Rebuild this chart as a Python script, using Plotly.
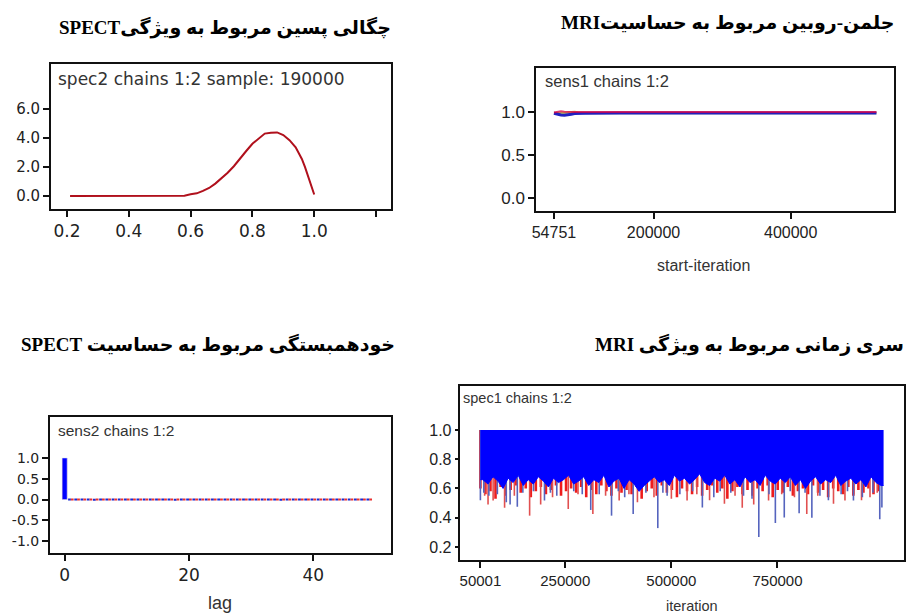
import numpy as np
import plotly.graph_objects as go

W, H = 906, 614

# ---------------- data ----------------
# Panel 1: posterior density of spec2
spec2_x = [0.21, 0.30, 0.40, 0.50, 0.58, 0.60, 0.62, 0.64, 0.66, 0.68, 0.70, 0.72, 0.74, 0.76,
           0.78, 0.80, 0.82, 0.84, 0.86, 0.88, 0.90, 0.92, 0.94, 0.96, 0.97, 0.98, 0.99, 1.00]
spec2_density = [0.0, 0.0, 0.0, 0.0, 0.02, 0.12, 0.18, 0.35, 0.55, 0.85, 1.2, 1.6, 2.05, 2.6,
                 3.1, 3.6, 3.95, 4.3, 4.35, 4.38, 4.2, 3.85, 3.35, 2.55, 2.0, 1.35, 0.75, 0.1]

# Panel 2: Gelman-Rubin for sens1
gr_iter = [54751, 60000, 65000, 70000, 75000, 80000, 85000, 90000, 95000, 100000,
           150000, 200000, 300000, 400000, 525000]
gr_green = [0.99, 0.99, 0.985, 0.99, 0.995, 1.0, 1.0, 0.995, 0.99, 0.99,
            0.99, 0.99, 0.99, 0.99, 0.99]
gr_blue = [0.985, 0.972, 0.965, 0.963, 0.966, 0.975, 0.982, 0.986, 0.987, 0.987,
           0.988, 0.988, 0.988, 0.988, 0.988]
gr_red = [0.995, 1.005, 1.008, 1.004, 1.0, 1.0, 1.0, 1.0, 1.0, 1.0,
          1.0, 1.0, 1.0, 1.0, 1.0]

# Panel 3: autocorrelation of sens2 (lags 0..49)
acf_lag = list(range(50))
acf_chain1 = [1.0] + [0.003, -0.002, 0.001, 0.002, -0.003, 0.0, 0.002, -0.001, 0.001, -0.002,
                      0.003, 0.0, -0.001, 0.002, -0.002, 0.001, 0.0, -0.003, 0.002, 0.001,
                      -0.001, 0.0, 0.002, -0.002, 0.001, 0.003, -0.001, 0.0, 0.001, -0.002,
                      0.002, 0.0, -0.001, 0.001, -0.003, 0.002, 0.0, 0.001, -0.002, 0.001,
                      0.0, -0.001, 0.002, 0.001, -0.002, 0.0, 0.001, -0.001, 0.002]
acf_chain2 = [1.0] + [-0.002, 0.001, 0.003, -0.001, 0.0, 0.002, -0.002, 0.001, 0.0, 0.002,
                      -0.001, 0.001, 0.003, -0.002, 0.0, 0.001, -0.001, 0.002, 0.0, -0.002,
                      0.001, 0.002, -0.001, 0.0, 0.003, -0.002, 0.001, 0.0, -0.001, 0.002,
                      0.0, 0.001, -0.002, 0.002, 0.0, -0.001, 0.001, 0.003, 0.0, -0.002,
                      0.001, 0.0, -0.001, 0.002, 0.0, 0.001, -0.002, 0.0, 0.001]

# Panel 4: trace of spec1 (iterations 50001..1000000), two chains
trace_first, trace_last = 50001, 1000000
blue_floor = [0.66, 0.63, 0.68, 0.65, 0.60, 0.67, 0.64, 0.69, 0.62, 0.66,
              0.63, 0.68, 0.65, 0.61, 0.67, 0.64, 0.66, 0.69, 0.63, 0.65,
              0.68, 0.62, 0.66, 0.64, 0.69, 0.61, 0.65, 0.67, 0.60, 0.66,
              0.63, 0.58, 0.62, 0.65, 0.68, 0.64, 0.66, 0.62, 0.69, 0.65,
              0.67, 0.63, 0.66, 0.70, 0.64, 0.62, 0.67, 0.65, 0.69, 0.63,
              0.66, 0.61, 0.68, 0.64, 0.66, 0.62, 0.69, 0.65, 0.63, 0.67,
              0.64, 0.68, 0.62, 0.66, 0.60, 0.65, 0.68, 0.63, 0.66, 0.64,
              0.69, 0.62, 0.65, 0.67, 0.63, 0.66, 0.61, 0.68, 0.64, 0.62]
red_floor = [0.60, 0.56, 0.58, 0.53, 0.61, 0.55, 0.59, 0.62, 0.57, 0.60,
             0.54, 0.58, 0.61, 0.56, 0.59, 0.62, 0.55, 0.58, 0.60, 0.57,
             0.61, 0.54, 0.59, 0.56, 0.62, 0.58, 0.55, 0.60, 0.57, 0.59,
             0.56, 0.61, 0.53, 0.58, 0.60, 0.55, 0.62, 0.57, 0.59, 0.54,
             0.60, 0.58, 0.56, 0.61, 0.55, 0.59, 0.62, 0.57, 0.60, 0.53,
             0.58, 0.61, 0.56, 0.59, 0.55, 0.60, 0.58, 0.62, 0.54, 0.59,
             0.57, 0.61, 0.55, 0.58, 0.60, 0.56, 0.62, 0.57, 0.59, 0.54,
             0.60, 0.58, 0.56, 0.61, 0.55, 0.59, 0.57, 0.60, 0.56, 0.58]
blue_spike_iter = [50000, 58000, 70000, 90000, 111000, 120000, 137000, 150000, 175000, 201000,
                   215000, 230000, 270000, 290000, 310000, 330000, 359000, 375000, 390000, 410000,
                   440000, 468000, 480000, 490000, 520000, 550000, 573000, 600000, 615000, 640000,
                   670000, 690000, 706000, 730000, 745000, 766000, 780000, 801000, 815000, 831000,
                   850000, 870000, 900000, 915000, 929000, 950000, 975000, 991000, 996000]
blue_spike_min = [0.52, 0.57, 0.55, 0.56, 0.505, 0.49, 0.475, 0.57, 0.58, 0.517,
                  0.57, 0.55, 0.58, 0.56, 0.453, 0.56, 0.414, 0.58, 0.54, 0.425,
                  0.57, 0.329, 0.57, 0.55, 0.56, 0.58, 0.469, 0.54, 0.58, 0.57,
                  0.55, 0.53, 0.269, 0.56, 0.363, 0.402, 0.58, 0.43, 0.57, 0.40,
                  0.55, 0.52, 0.56, 0.58, 0.517, 0.54, 0.57, 0.39, 0.47]
red_spike_iter = [60000, 68000, 80000, 107000, 130000, 166000, 192000, 220000, 257000, 280000,
                  315000, 345000, 377000, 400000, 420000, 459000, 500000, 537000, 560000, 590000,
                  625000, 650000, 667000, 694000, 729000, 760000, 790000, 819000, 845000, 882000,
                  909000, 930000, 948000, 968000, 985000]
red_spike_min = [0.55, 0.49, 0.517, 0.468, 0.55, 0.414, 0.49, 0.54, 0.46, 0.56,
                 0.425, 0.55, 0.517, 0.56, 0.505, 0.54, 0.53, 0.517, 0.56, 0.52,
                 0.495, 0.55, 0.468, 0.49, 0.517, 0.56, 0.54, 0.425, 0.55, 0.495,
                 0.517, 0.56, 0.52, 0.54, 0.57]

# ---------------- layout helpers ----------------
def dx(p):
    return p / W

def dy(p):
    return 1 - p / H

panels = {
    "tl": dict(x=(47, 389), y=(64, 209)),
    "tr": dict(x=(535, 895), y=(68, 211)),
    "bl": dict(x=(46, 389), y=(417, 553)),
    "br": dict(x=(459, 905), y=(386, 560)),
}

SANS = "Liberation Sans, Arial, sans-serif"
WIDE = "DejaVu Sans, Liberation Sans, sans-serif"
TITLE_FONT = "Liberation Serif, Times New Roman, DejaVu Sans, serif"
TXT = "#222222"

fig = go.Figure()

# ---- panel 1: density
fig.add_trace(go.Scatter(x=spec2_x, y=spec2_density, mode="lines",
                         line=dict(color="#b0101c", width=2), xaxis="x", yaxis="y",
                         showlegend=False, hoverinfo="skip"))

# ---- panel 2: Gelman-Rubin
fig.add_trace(go.Scatter(x=gr_iter, y=gr_green, mode="lines",
                         line=dict(color="#b8c060", width=2.5), xaxis="x2", yaxis="y2",
                         showlegend=False, hoverinfo="skip"))
fig.add_trace(go.Scatter(x=gr_iter, y=gr_blue, mode="lines",
                         line=dict(color="#2020c0", width=3), xaxis="x2", yaxis="y2",
                         showlegend=False, hoverinfo="skip"))
fig.add_trace(go.Scatter(x=gr_iter, y=gr_red, mode="lines",
                         line=dict(color="rgba(220,0,70,0.75)", width=2), xaxis="x2", yaxis="y2",
                         showlegend=False, hoverinfo="skip"))

# ---- panel 3: autocorrelation
fig.add_trace(go.Bar(x=[acf_lag[0]], y=[acf_chain2[0]], width=0.8, marker_color="#ff0000",
                     xaxis="x3", yaxis="y3", showlegend=False, hoverinfo="skip"))
fig.add_trace(go.Bar(x=[acf_lag[0]], y=[acf_chain1[0]], width=0.8, marker_color="#0000ff",
                     xaxis="x3", yaxis="y3", showlegend=False, hoverinfo="skip"))
bx, by, rx, ry = [], [], [], []
for k, v1, v2 in zip(acf_lag[1:], acf_chain1[1:], acf_chain2[1:]):
    bx += [k - 0.45, k, None]
    by += [v1, v1, None]
    rx += [k, k + 0.45, None]
    ry += [v2, v2, None]
fig.add_trace(go.Scatter(x=bx, y=by, mode="lines", line=dict(color="#1a2ad0", width=2),
                         xaxis="x3", yaxis="y3", showlegend=False, hoverinfo="skip"))
fig.add_trace(go.Scatter(x=rx, y=ry, mode="lines", line=dict(color="#e83030", width=2),
                         xaxis="x3", yaxis="y3", showlegend=False, hoverinfo="skip"))

# ---- panel 4: trace
nb = len(blue_floor)
edges = np.linspace(trace_first, trace_last, nb + 1)
centers = (edges[:-1] + edges[1:]) / 2

def spikes(iters, mins, color, width):
    xs, ys = [], []
    for it, m in zip(iters, mins):
        xs += [it, it, None]
        ys += [1.0, m, None]
    return go.Scatter(x=xs, y=ys, mode="lines", line=dict(color=color, width=width),
                      xaxis="x4", yaxis="y4", showlegend=False, hoverinfo="skip")

# red chain: bulk strokes and deep excursions
fig.add_trace(spikes(edges[:-1], red_floor, "#ee1c1c", 2.6))
fig.add_trace(spikes(red_spike_iter, red_spike_min, "rgb(225,80,80)", 1.6))
fig.add_trace(spikes(blue_spike_iter, blue_spike_min, "rgb(85,100,190)", 1.6))
# blue chain bulk (drawn last, on top)
fig.add_trace(go.Scatter(x=[trace_first, trace_last], y=[1.0, 1.0], mode="lines",
                         line=dict(width=0, color="#0000ff"), xaxis="x4", yaxis="y4",
                         showlegend=False, hoverinfo="skip"))
fig.add_trace(go.Scatter(x=[trace_first] + list(centers) + [trace_last],
                         y=[blue_floor[0]] + list(blue_floor) + [blue_floor[-1]], mode="lines",
                         line=dict(width=1, color="#0000ff"), fill="tonexty", fillcolor="#0000ff",
                         xaxis="x4", yaxis="y4", showlegend=False, hoverinfo="skip"))

# ---------------- axes ----------------
def axis(dom, rng, font, **kw):
    d = dict(domain=dom, range=rng, showline=True, linecolor="#111111", linewidth=1.5, mirror=True,
             ticks="outside", ticklen=6, tickwidth=1.5, tickcolor="#111111", showgrid=False,
             zeroline=False, tickfont=font, fixedrange=True)
    d.update(kw)
    return d

def xdom(p):
    return [dx(panels[p]["x"][0]), dx(panels[p]["x"][1])]

def ydom(p):
    return [dy(panels[p]["y"][1]), dy(panels[p]["y"][0])]

layout = dict(
    width=W, height=H, margin=dict(l=0, r=0, t=0, b=0),
    paper_bgcolor="white", plot_bgcolor="white", showlegend=False, barmode="overlay",
    xaxis=axis(xdom("tl"), [0.1475, 1.248], dict(family=WIDE, size=17, color=TXT),
               tickvals=[0.2, 0.4, 0.6, 0.8, 1.0, 1.2], ticktext=["0.2", "0.4", "0.6", "0.8", "1.0", ""],
               anchor="y"),
    yaxis=axis(ydom("tl"), [-0.9, 9.1], dict(family=WIDE, size=15, color=TXT),
               tickvals=[0, 2, 4, 6], ticktext=["0.0", "2.0", "4.0", "6.0"], anchor="x"),
    xaxis2=axis(xdom("tr"), [28664, 550725], dict(family=SANS, size=16, color=TXT),
                tickvals=[54751, 200000, 400000], ticktext=["54751", "200000", "400000"], anchor="y2"),
    yaxis2=axis(ydom("tr"), [-0.151, 1.512], dict(family=SANS, size=17, color=TXT),
                tickvals=[0, 0.5, 1.0], ticktext=["0.0", "0.5", "1.0"], anchor="x2"),
    xaxis3=axis(xdom("bl"), [-2.4, 52.48], dict(family=WIDE, size=17, color=TXT),
                tickvals=[0, 20, 40], ticktext=["0", "20", "40"], anchor="y3"),
    yaxis3=axis(ydom("bl"), [-1.289, 1.988], dict(family=WIDE, size=14, color=TXT),
                tickvals=[-1, -0.5, 0, 0.5, 1.0], ticktext=["-1.0", "-0.5", "0.0", "0.5", "1.0"],
                anchor="x3"),
    xaxis4=axis(xdom("br"), [3050, 1048122], dict(family=SANS, size=15, color=TXT),
                tickvals=[50001, 250000, 500000, 750000],
                ticktext=["50001", "250000", "500000", "750000"], anchor="y4"),
    yaxis4=axis(ydom("br"), [0.111, 1.30], dict(family=SANS, size=16, color=TXT),
                tickvals=[0.2, 0.4, 0.6, 0.8, 1.0], ticktext=["0.2", "0.4", "0.6", "0.8", "1.0"],
                anchor="x4", ticklen=4),
)
fig.update_layout(**layout)

# ---------------- texts ----------------
titles = [
    ("SPECT" + "چگالی پسین مربوط به ویژگی", 222, 27),
    ("MRI" + "جلمن-روبین مربوط به حساسیت", 728, 23),
    ("SPECT " + "خودهمبستگی مربوط به حساسیت", 205, 344),
    ("MRI " + "سری زمانی مربوط به ویژگی", 750, 344),
]
for txt, cx, cy in titles:
    fig.add_annotation(text="<b>" + txt + "</b>", x=dx(cx), y=dy(cy), xref="paper", yref="paper",
                       xanchor="center", yanchor="middle", showarrow=False,
                       font=dict(family=TITLE_FONT, size=19, color="#000000"))

inner = [
    ("spec2 chains 1:2 sample: 190000", 52, 79, WIDE, 17),
    ("sens1 chains 1:2", 542, 81, SANS, 16.5),
    ("sens2 chains 1:2", 52, 430, SANS, 15.5),
    ("spec1 chains 1:2", 460, 398, SANS, 14.5),
]
for txt, lx, cy, fam, sz in inner:
    fig.add_annotation(text=txt, x=dx(lx), y=dy(cy), xref="paper", yref="paper",
                       xanchor="left", yanchor="middle", showarrow=False,
                       font=dict(family=fam, size=sz, color="#333333"))

axis_titles = [
    ("start-iteration", 703, 265, 16),
    ("lag", 217, 603, 18),
    ("iteration", 692, 606, 14.5),
]
for txt, cx, cy, sz in axis_titles:
    fig.add_annotation(text=txt, x=dx(cx), y=dy(cy), xref="paper", yref="paper",
                       xanchor="center", yanchor="middle", showarrow=False,
                       font=dict(family=SANS, size=sz, color="#333333"))

fig.write_html("out.html", config={"displayModeBar": False},
               post_script="document.body.style.margin='0';document.body.style.overflow='hidden';")
